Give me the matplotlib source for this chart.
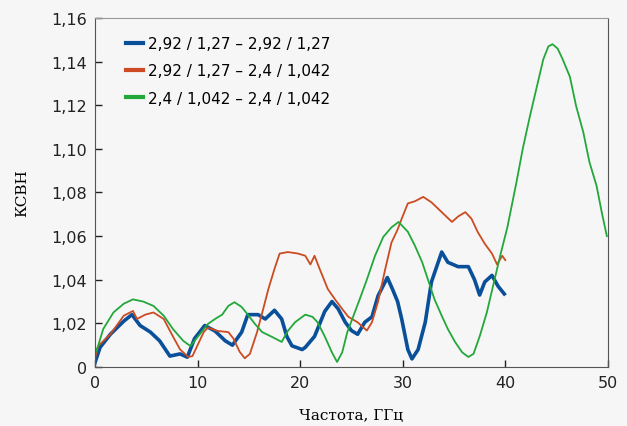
import numpy as np
import matplotlib
matplotlib.use('Agg')
import matplotlib.pyplot as plt

''' Data read off the reference (frequency in GHz, VSWR) '''
blue_f = [0, 0.5, 1.5, 2.8, 3.6, 4.4, 5.4, 6.3, 7.3, 8.3, 9.0, 9.7, 10.7, 11.7,
          12.7, 13.4, 14.3, 14.9, 15.9, 16.6, 17.5, 18.2, 18.7, 19.2, 20.2, 20.5,
          21.4, 22.4, 23.1, 23.7, 24.4, 25.0, 25.6, 26.3, 27.0, 27.6, 28.5, 29.0,
          29.5, 29.9, 30.5, 30.9, 31.5, 32.2, 32.8, 33.8, 34.4, 35.4, 36.4, 37.0,
          37.5, 38.0, 38.7, 39.3, 39.9]
blue_v = [1.002, 1.009, 1.015, 1.021, 1.024, 1.019, 1.016, 1.012, 1.005, 1.006,
          1.0045, 1.013, 1.019, 1.0165, 1.012, 1.010, 1.016, 1.024, 1.024, 1.022,
          1.026, 1.022, 1.014, 1.0097, 1.008, 1.009, 1.014, 1.0255, 1.030, 1.0267,
          1.0205, 1.0167, 1.015, 1.0205, 1.023, 1.0327, 1.041, 1.0357, 1.030, 1.022,
          1.008, 1.0037, 1.008, 1.0206, 1.039, 1.0527, 1.048, 1.046, 1.046, 1.040,
          1.033, 1.039, 1.042, 1.037, 1.0335]

red_f = [0, 0.3, 1.5, 2.8, 3.7, 4.1, 4.9, 5.7, 6.7, 7.6, 8.3, 9.1, 9.5, 10.6,
         11.0, 12.0, 13.0, 13.5, 14.1, 14.6, 15.1, 15.8, 16.4, 16.9, 17.5, 18.0,
         18.8, 19.8, 20.5, 21.0, 21.4, 21.9, 22.7, 23.4, 24.1, 24.7, 25.6, 26.5,
         27.0, 27.6, 28.3, 28.9, 29.5, 29.9, 30.5, 31.2, 32.0, 32.8, 33.8, 34.8,
         35.4, 36.1, 36.7, 37.3, 38.0, 38.7, 39.2, 39.7, 40.0]
red_v = [1.004, 1.0096, 1.015, 1.0235, 1.0257, 1.022, 1.024, 1.025, 1.022, 1.014,
         1.008, 1.0046, 1.005, 1.016, 1.018, 1.0165, 1.016, 1.013, 1.007, 1.004,
         1.006, 1.016, 1.0266, 1.0357, 1.045, 1.052, 1.0527, 1.052, 1.051, 1.047,
         1.051, 1.045, 1.0357, 1.031, 1.0266, 1.023, 1.0205, 1.0167, 1.0205, 1.030,
         1.045, 1.057, 1.063, 1.068, 1.075, 1.076, 1.078, 1.0755, 1.071, 1.0665,
         1.069, 1.071, 1.068, 1.062, 1.0565, 1.052, 1.047, 1.051, 1.049]

green_f = [0, 0.3, 0.8, 1.8, 2.8, 3.7, 4.7, 5.7, 6.7, 7.6, 8.6, 9.3, 10.0, 11.0,
           11.7, 12.4, 13.0, 13.6, 14.3, 14.9, 15.6, 16.3, 17.3, 18.2, 18.8, 19.5,
           20.5, 21.2, 21.7, 22.4, 23.1, 23.6, 24.1, 24.6, 25.2, 25.8, 26.5, 27.3,
           28.1, 28.9, 29.6, 30.5, 31.2, 31.9, 32.5, 33.1, 33.8, 34.4, 35.1, 35.8,
           36.4, 36.9, 37.5, 38.2, 38.8, 39.5, 40.2, 41.1, 41.7, 42.4, 43.1, 43.7,
           44.2, 44.6, 45.1, 45.6, 46.3, 46.9, 47.6, 48.2, 48.9, 49.4, 49.9]
green_v = [1.006, 1.0096, 1.0174, 1.025, 1.029, 1.031, 1.030, 1.028, 1.0235, 1.0174,
           1.012, 1.0096, 1.0137, 1.0197, 1.022, 1.024, 1.028, 1.0297, 1.0275, 1.024,
           1.0197, 1.016, 1.0137, 1.0115, 1.0165, 1.0205, 1.024, 1.023, 1.0205, 1.014,
           1.0067, 1.0023, 1.0067, 1.016, 1.0235, 1.031, 1.040, 1.051, 1.0596, 1.064,
           1.0665, 1.062, 1.0555, 1.048, 1.0395, 1.031, 1.0235, 1.0174, 1.0115, 1.0067,
           1.0046, 1.006, 1.014, 1.025, 1.037, 1.051, 1.064, 1.085, 1.100, 1.115,
           1.129, 1.141, 1.147, 1.148, 1.146, 1.141, 1.133, 1.1197, 1.1077, 1.094,
           1.083, 1.071, 1.060]

labels = ['2,92 / 1,27 \u2013 2,92 / 1,27',
          '2,92 / 1,27 \u2013 2,4 / 1,042',
          '2,4 / 1,042 \u2013 2,4 / 1,042']
x_ticks = [0, 10, 20, 30, 40, 50]
y_ticks = [1.00, 1.02, 1.04, 1.06, 1.08, 1.10, 1.12, 1.14, 1.16]
y_labels = ['0', '1,02', '1,04', '1,06', '1,08', '1,10', '1,12', '1,14', '1,16']

''' Plot '''
bg = '#f6f6f6'
fig = plt.figure(figsize=(6.27, 4.27), dpi=100, facecolor=bg)
ax = fig.add_axes([0.1515, 0.1382, 0.818, 0.8173], facecolor=bg)

ax.plot(blue_f, blue_v, color='#0a4f9a', lw=2.6, label=labels[0])
ax.plot(red_f, red_v, color='#cc4b22', lw=1.3, label=labels[1])
ax.plot(green_f, green_v, color='#22a83a', lw=1.3, label=labels[2])

ax.set_xlim(0, 50)
ax.set_ylim(1.0, 1.16)
ax.set_xticks(x_ticks)
ax.set_yticks(y_ticks)
ax.set_yticklabels(y_labels)
ax.tick_params(direction='in', length=5, width=1, labelsize=11.5,
               colors='#222222', pad=6)

for side in ['left', 'bottom', 'right']:
    ax.spines[side].set_color('#555555')
ax.spines['top'].set_color('#999999')

ax.set_xlabel('Частота, ГГц', family='DejaVu Serif', fontsize=11, labelpad=13)
ax.set_ylabel('КСВН', family='DejaVu Serif', fontsize=11, labelpad=16)

leg = ax.legend(loc='upper left', frameon=False, fontsize=11, handlelength=1.1,
                handletextpad=0.35, labelspacing=0.8, borderpad=0, borderaxespad=0,
                bbox_to_anchor=(0.06, 0.948))
for line in leg.get_lines():
    line.set_linewidth(3)

fig.savefig('out.png', dpi=100, facecolor=bg)
